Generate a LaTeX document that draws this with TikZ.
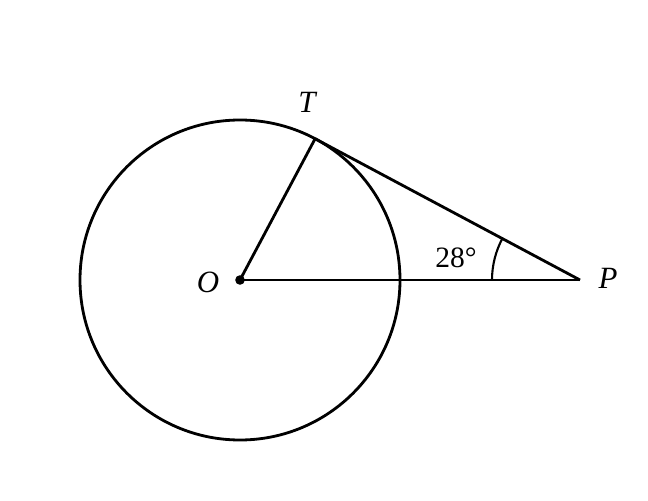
\documentclass[tikz,border=0pt]{standalone}
\usepackage{fontspec}
\setmainfont{Liberation Serif}
\begin{document}
\begin{tikzpicture}[line width=2pt]
		\useasboundingbox (-6,-5.5) rectangle (10.2,7);
		
		\coordinate (O) at (0,0);
		\coordinate (P) at (8.5,0);
		\coordinate (T) at (62:4);
		
		\draw (O) circle (4);
		\draw (O) -- (T);
		\draw (O) -- (P);
		\draw (T) -- (P);
		\draw[line width=1.5pt] ([shift={(180:2.2)}]P) arc (180:152:2.2);
		\fill (O) circle (0.12);
		
		\node[font=\fontsize{22}{26}\selectfont] at (-0.8,-0.05) (lO) {\textit{O}};
		\node[font=\fontsize{22}{26}\selectfont] at (1.7,4.45) (lT) {\textit{T}};
		\node[font=\fontsize{22}{26}\selectfont] at (9.2,0.05) (lP) {\textit{P}};
		\node[font=\fontsize{21}{25}\selectfont] at (5.4,0.55) (winkel) {28°};
\end{tikzpicture}
\end{document}
